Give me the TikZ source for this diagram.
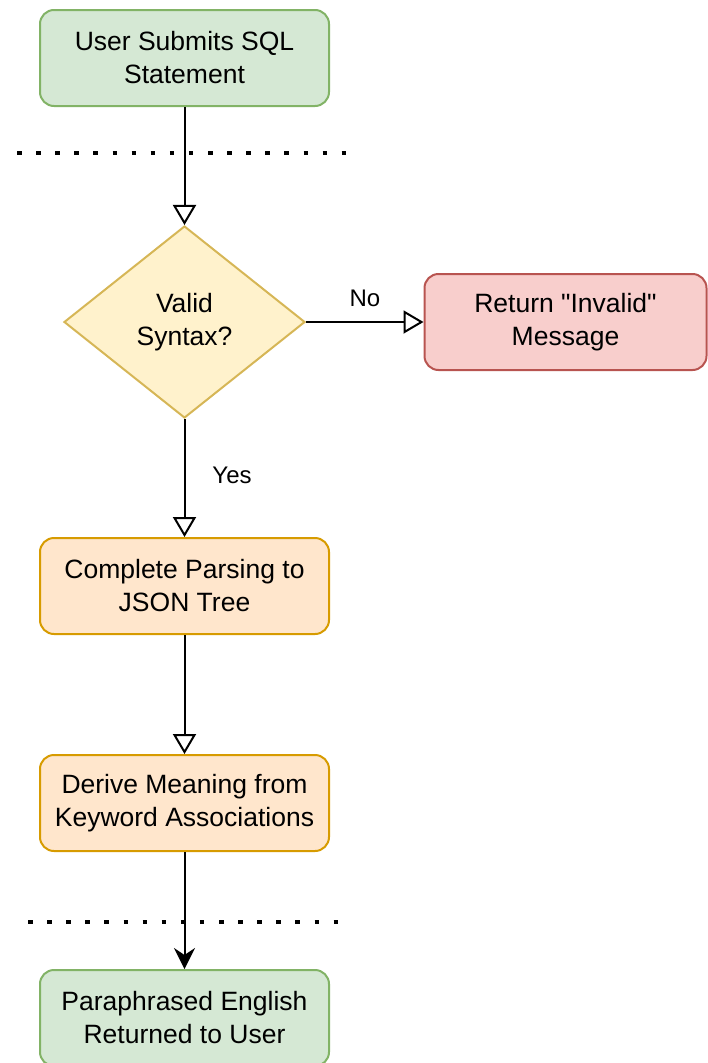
\documentclass[tikz,border=0pt]{standalone}
\usepackage{fontspec}
\setmainfont{Liberation Sans}
\usetikzlibrary{shapes.geometric,arrows.meta}
\definecolor{gfill}{HTML}{D5E8D4}
\definecolor{gline}{HTML}{82B366}
\definecolor{yfill}{HTML}{FFF2CC}
\definecolor{yline}{HTML}{D6B656}
\definecolor{rfill}{HTML}{F8CECC}
\definecolor{rline}{HTML}{B85450}
\definecolor{ofill}{HTML}{FFE6CC}
\definecolor{oline}{HTML}{D79B00}
\begin{document}
\begin{tikzpicture}[x=1pt,y=-1pt,
  box/.style={draw, rounded corners=14pt, line width=2pt, minimum width=289pt,
    minimum height=96pt, align=center, font=\fontsize{26.5}{33}\selectfont, text=black, inner sep=0pt},
  greenbox/.style={box, fill=gfill, draw=gline},
  orangebox/.style={box, fill=ofill, draw=oline},
  redbox/.style={box, fill=rfill, draw=rline, minimum width=282pt},
  decision/.style={diamond, draw=yline, fill=yfill, line width=2pt, minimum width=241pt,
    minimum height=192pt, inner sep=0pt, align=center, font=\fontsize{26.5}{33}\selectfont},
  flow/.style={-{Triangle[open,length=20pt,width=23pt]}, line width=2pt},
  flowfilled/.style={-{Stealth[length=21pt,width=21pt,inset=7pt]}, line width=2pt},
  lbl/.style={font=\fontsize{24}{28}\selectfont, inner sep=0pt},
  dotline/.style={line width=4.5pt, dash pattern=on 4.5pt off 14.6pt}
]
\useasboundingbox (0,0) rectangle (708,1063);

\node[greenbox] (b1) at (184.5,58) {User Submits SQL\\Statement};
\node[decision] (dia) at (184.5,322) {Valid\\Syntax?};
\node[redbox] (inv) at (565.5,322) {Return \textquotedbl Invalid\textquotedbl\\Message};
\node[orangebox] (b3) at (184.5,586) {Complete Parsing to\\JSON Tree};
\node[orangebox] (b4) at (184.5,803) {Derive Meaning from\\Keyword Associations};
\node[greenbox] (b5) at (184.5,1018) {Paraphrased English\\Returned to User};

\draw[dotline] (17,153) -- (347,153);
\draw[dotline] (28,922) -- (340,922);

\draw[flow] (b1) -- (dia);
\draw[flow] (dia) -- (inv);
\draw[flow] (dia) -- (b3);
\draw[flow] (b3) -- (b4);
\draw[flowfilled] (b4) -- (b5);

\node[lbl] (no) at (365,298) {No};
\node[lbl] (yes) at (232,475) {Yes};
\end{tikzpicture}
\end{document}
